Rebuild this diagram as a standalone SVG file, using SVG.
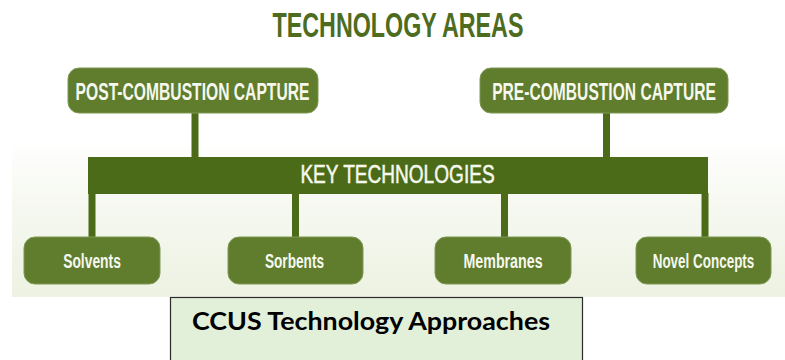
<svg xmlns="http://www.w3.org/2000/svg" width="785" height="360" viewBox="0 0 785 360">
  <defs>
    <linearGradient id="bg" x1="0" y1="0" x2="0" y2="1">
      <stop offset="0" stop-color="#ffffff"/>
      <stop offset="0.35" stop-color="#f7f9f2"/>
      <stop offset="1" stop-color="#edf2e2"/>
    </linearGradient>
    <style>
      .box { fill: #5f7d2d; stroke: #7f9855; stroke-width: 1; }
      .bar { fill: #4b6b18; }
      .cn { stroke: #4b6b18; stroke-width: 7; fill: none; }
      .cond { font-family: "Liberation Sans", Arial, sans-serif; text-anchor: middle; }
      .hdr { font-weight: bold; fill: #f6f8ee; font-size: 23px; }
      .leaf { font-weight: bold; fill: #f6f8ee; font-size: 19.5px; }
    </style>
  </defs>
  <rect x="0" y="0" width="785" height="360" fill="#ffffff"/>
  <rect x="12" y="140" width="773" height="157" fill="url(#bg)"/>

  <text class="cond" transform="translate(398,37) scale(0.665,1)" x="0" y="0" font-size="35" font-weight="bold" fill="#4d6c1f">TECHNOLOGY AREAS</text>

  <g id="connectors">
    <line class="cn" x1="195" y1="112" x2="195" y2="158"/>
    <line class="cn" x1="606.5" y1="112" x2="606.5" y2="158"/>
    <line class="cn" x1="92" y1="193" x2="92" y2="238"/>
    <line class="cn" x1="295.5" y1="193" x2="295.5" y2="238"/>
    <line class="cn" x1="504.5" y1="193" x2="504.5" y2="238"/>
    <line class="cn" x1="705" y1="193" x2="705" y2="238"/>
  </g>

  <g id="post-combustion">
    <rect class="box" x="68" y="68" width="250" height="45" rx="11"/>
    <text class="cond hdr" transform="translate(192.5,100) scale(0.681,1)" x="0" y="0">POST-COMBUSTION CAPTURE</text>
  </g>
  <g id="pre-combustion">
    <rect class="box" x="480" y="68" width="248" height="45" rx="11"/>
    <text class="cond hdr" transform="translate(604,100) scale(0.679,1)" x="0" y="0">PRE-COMBUSTION CAPTURE</text>
  </g>
  <g id="key-technologies">
    <rect class="bar" x="88" y="157" width="620" height="37"/>
    <text class="cond" transform="translate(397.5,183) scale(0.763,1)" x="0" y="0" font-size="25" fill="#f6f8ee" stroke="#f6f8ee" stroke-width="0.5">KEY TECHNOLOGIES</text>
  </g>
  <g id="solvents">
    <rect class="box" x="24" y="237" width="136" height="47" rx="11"/>
    <text class="cond leaf" transform="translate(92,268) scale(0.71,1)" x="0" y="0">Solvents</text>
  </g>
  <g id="sorbents">
    <rect class="box" x="228" y="237" width="135" height="47" rx="11"/>
    <text class="cond leaf" transform="translate(294.5,268) scale(0.70,1)" x="0" y="0">Sorbents</text>
  </g>
  <g id="membranes">
    <rect class="box" x="435" y="237" width="136" height="47" rx="11"/>
    <text class="cond leaf" transform="translate(503,268) scale(0.73,1)" x="0" y="0">Membranes</text>
  </g>
  <g id="novel-concepts">
    <rect class="box" x="636" y="237" width="135" height="47" rx="11"/>
    <text class="cond leaf" transform="translate(703.5,268) scale(0.69,1)" x="0" y="0">Novel Concepts</text>
  </g>

  <g id="caption">
    <rect x="170.5" y="297.5" width="412" height="70" fill="#e2efd9" stroke="#2b2b2b" stroke-width="1.2"/>
    <text x="371" y="330" text-anchor="middle" font-family="Lato, 'Open Sans', 'Liberation Sans', sans-serif" font-weight="bold" font-size="25" fill="#000000" textLength="358" lengthAdjust="spacingAndGlyphs">CCUS Technology Approaches</text>
  </g>
</svg>
